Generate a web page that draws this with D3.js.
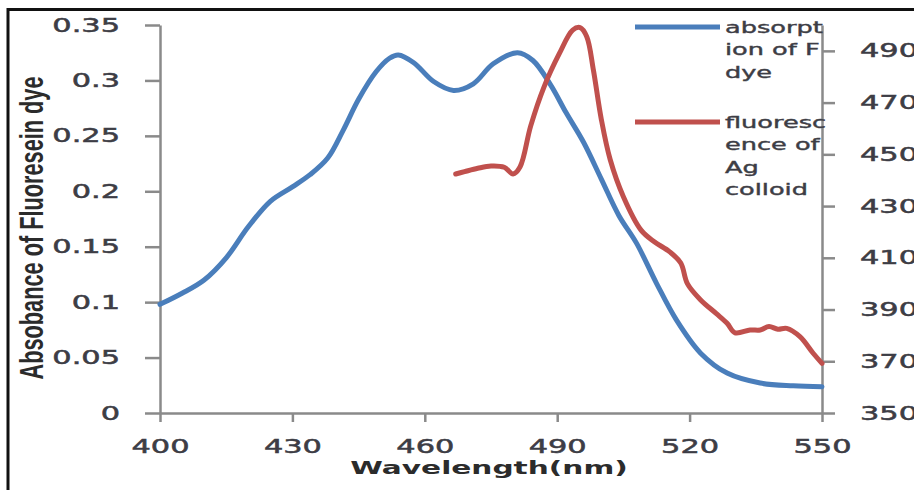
<!DOCTYPE html>
<html>
<head>
<meta charset="utf-8">
<script src="https://cdn.jsdelivr.net/npm/d3@7"></script>
<style>
  body { margin: 0; background: #fff; }
  text { font-family: "DejaVu Sans", Verdana, sans-serif; }
</style>
</head>
<body>
<div id="chart"></div>
<script>
// absorption of fluorescein dye (left axis)
const absWavelength = [400, 405, 410, 415, 420, 425, 430, 434, 438, 441.5, 445, 449, 452, 454,
    457.5, 462, 466.5, 471, 475.5, 481, 484.5, 488.5, 492, 496, 500, 504, 508, 512.5, 517,
    522.5, 528.5, 536, 543.5, 550];
const absValues = [0.098, 0.108, 0.120, 0.140, 0.168, 0.191, 0.204, 0.215, 0.230, 0.255, 0.283,
    0.308, 0.320, 0.323, 0.316, 0.299, 0.291, 0.297, 0.315, 0.325, 0.318, 0.296, 0.271, 0.244,
    0.211, 0.178, 0.153, 0.117, 0.084, 0.054, 0.036, 0.027, 0.0245, 0.0237];

// fluorescence of Ag colloid (right axis)
const fluWavelength = [467, 469, 472, 475, 478, 480, 481.6, 484, 487, 490.5, 493.5, 495.2, 496.7,
    498.2, 500, 502, 505, 509, 512, 515.5, 518, 519.5, 522.5, 526, 528.5, 530.3, 533.7, 536,
    538, 540, 542, 545, 548, 550];
const fluValues = [442.4, 443.3, 444.6, 445.5, 445, 442.4, 445.2, 461, 476, 489, 498, 499, 495.5,
    482.6, 463.5, 448, 433.6, 420.7, 416.2, 412.3, 408, 400, 393.7, 388.5, 384.7, 381, 382.1,
    382.1, 383.4, 382.4, 382.7, 379.5, 373.1, 369.2];

const xTicks = [400, 430, 460, 490, 520, 550];
const yLeftTicks = [0, 0.05, 0.1, 0.15, 0.2, 0.25, 0.3, 0.35];
const yRightTicks = [350, 370, 390, 410, 430, 450, 470, 490];

const legendAbs = ["absorpt", "ion of F", "dye"];
const legendFlu = ["fluoresc", "ence of", "Ag", "colloid"];

const W = 914, H = 490;
const plot = { left: 160, right: 822, top: 25, bottom: 413 };
const stretch = 1.6; // text in the picture is wide
const axisColor = "#8a8a8a", textColor = "#3d3d45";
const blue = "#4a7ebb", red = "#c0504d";

const svg = d3.select("#chart").append("svg")
    .attr("width", W)
    .attr("height", H);

// outer frame
svg.append("rect")
    .attr("x", 8).attr("y", 9.5)
    .attr("width", 1000).attr("height", 1000)
    .attr("fill", "none")
    .attr("stroke", "#111")
    .attr("stroke-width", 3);

const x = d3.scaleLinear().domain([400, 550]).range([plot.left, plot.right]);
const yL = d3.scaleLinear().domain([0, 0.35]).range([plot.bottom, plot.top]);
const yR = d3.scaleLinear().domain([350, 500]).range([plot.bottom, plot.top]);

function styleAxis(g) {
    g.select(".domain").attr("stroke", axisColor).attr("stroke-width", 2.5);
    g.selectAll(".tick line").attr("stroke", axisColor).attr("stroke-width", 2.5);
    g.selectAll(".tick text")
        .attr("fill", textColor)
        .attr("stroke", textColor)
        .attr("stroke-width", 0.5)
        .style("font-size", "19px")
        .attr("transform", `scale(${stretch},1)`)
        .attr("x", function () { return +d3.select(this).attr("x") / stretch || 0; });
}

// left axis
svg.append("g")
    .attr("transform", `translate(${plot.left},0)`)
    .call(d3.axisLeft(yL).tickValues(yLeftTicks).tickSize(15).tickSizeOuter(0).tickPadding(25)
        .tickFormat(d => d === 0 ? "0" : String(+d.toFixed(2))))
    .call(styleAxis);

// right axis
svg.append("g")
    .attr("transform", `translate(${plot.right},0)`)
    .call(d3.axisRight(yR).tickValues(yRightTicks).tickSize(13).tickSizeOuter(0).tickPadding(25))
    .call(styleAxis);

// bottom axis
svg.append("g")
    .attr("transform", `translate(0,${plot.bottom})`)
    .call(d3.axisBottom(x).tickValues(xTicks).tickSize(9).tickSizeOuter(0).tickPadding(17.5))
    .call(styleAxis);

// axis titles
svg.append("text")
    .attr("transform", `translate(489,474) scale(${stretch},1)`)
    .attr("text-anchor", "middle")
    .attr("fill", "#2b2b2b")
    .style("font-size", "18.5px")
    .style("font-weight", "bold")
    .text("Wavelength(nm)");

svg.append("text")
    .attr("transform", `translate(43,228) scale(${stretch},1) rotate(-90)`)
    .attr("text-anchor", "middle")
    .attr("fill", "#2b2b2b")
    .attr("textLength", 303)
    .attr("lengthAdjust", "spacingAndGlyphs")
    .style("font-family", "'Liberation Sans Narrow', 'Liberation Sans', sans-serif")
    .style("font-size", "21px")
    .style("font-weight", "bold")
    .text("Absobance of Fluoresein dye");

// lines
const absData = absWavelength.map((w, i) => ({ w, v: absValues[i] }));
const fluData = fluWavelength.map((w, i) => ({ w, v: fluValues[i] }));

svg.append("path")
    .datum(absData)
    .attr("fill", "none")
    .attr("stroke", blue)
    .attr("stroke-width", 5)
    .attr("stroke-linejoin", "round")
    .attr("stroke-linecap", "round")
    .attr("d", d3.line().x(d => x(d.w)).y(d => yL(d.v)).curve(d3.curveCatmullRom));

svg.append("path")
    .datum(fluData)
    .attr("fill", "none")
    .attr("stroke", red)
    .attr("stroke-width", 5)
    .attr("stroke-linejoin", "round")
    .attr("stroke-linecap", "round")
    .attr("d", d3.line().x(d => x(d.w)).y(d => yR(d.v)).curve(d3.curveCatmullRom));

// legend
const legendItems = [
    { lines: legendAbs, color: blue, y: 27 },
    { lines: legendFlu, color: red, y: 122 }
];

legendItems.forEach(item => {
    svg.append("line")
        .attr("x1", 635).attr("x2", 720)
        .attr("y1", item.y).attr("y2", item.y)
        .attr("stroke", item.color)
        .attr("stroke-width", 5);
    const t = svg.append("text")
        .attr("transform", `translate(725,${item.y + 6}) scale(${stretch},1)`)
        .attr("fill", textColor)
        .attr("stroke", textColor)
        .attr("stroke-width", 0.4)
        .style("font-size", "16px");
    item.lines.forEach((line, i) => {
        t.append("tspan")
            .attr("x", 0)
            .attr("dy", i === 0 ? 0 : 22.5)
            .text(line);
    });
});
</script>
</body>
</html>
